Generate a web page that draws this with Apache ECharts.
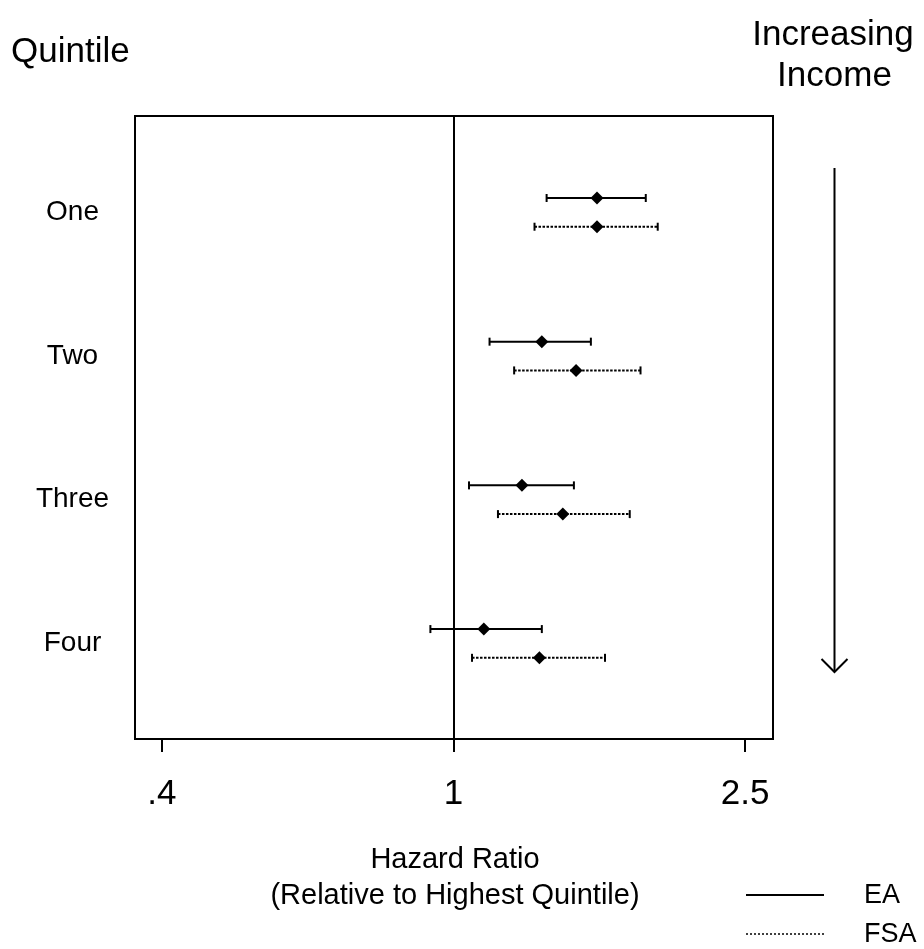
<!DOCTYPE html>
<html><head><meta charset="utf-8">
<script src="https://cdn.jsdelivr.net/npm/echarts@6/dist/echarts.min.js"></script>
<style>html,body{margin:0;padding:0;background:#fff}#c{width:924px;height:949px}</style>
</head><body><div id="c"></div>
<script>
// ---- data ----
const categories = ['One', 'Two', 'Three', 'Four'];
const eaEst  = [1.57, 1.32, 1.24, 1.10];
const eaLow  = [1.34, 1.12, 1.05, 0.93];
const eaHigh = [1.83, 1.54, 1.46, 1.32];
const fsaEst  = [1.57, 1.47, 1.41, 1.31];
const fsaLow  = [1.29, 1.21, 1.15, 1.06];
const fsaHigh = [1.90, 1.80, 1.74, 1.61];
const tickValues = [0.4, 1, 2.5];
const tickLabels = ['.4', '1', '2.5'];
const referenceValue = 1;
const seriesNames = ['EA', 'FSA'];

// ---- chart ----
const FONT = '"Liberation Sans", Arial, Helvetica, sans-serif';
const L = Math.log10;
function rows(est, lo, hi) {
  return categories.map((c, i) => [L(est[i]), L(lo[i]), L(hi[i]), i + 1]);
}
function makeRender(offset, dashed) {
  return function (params, api) {
    const y = api.value(3) + offset;
    const pE = api.coord([api.value(0), y]);
    const pL = api.coord([api.value(1), y]);
    const pH = api.coord([api.value(2), y]);
    const cap = 4, d = 6.5;
    return {
      type: 'group',
      children: [
        { type: 'line', shape: { x1: pL[0], y1: pL[1], x2: pH[0], y2: pH[1] },
          style: { stroke: '#000', lineWidth: 2, lineDash: dashed ? [2.5, 1.5] : null } },
        { type: 'line', shape: { x1: pL[0], y1: pL[1] - cap, x2: pL[0], y2: pL[1] + cap },
          style: { stroke: '#000', lineWidth: 2 } },
        { type: 'line', shape: { x1: pH[0], y1: pH[1] - cap, x2: pH[0], y2: pH[1] + cap },
          style: { stroke: '#000', lineWidth: 2 } },
        { type: 'polygon', shape: { points: [[pE[0], pE[1] - d], [pE[0] + d, pE[1]], [pE[0], pE[1] + d], [pE[0] - d, pE[1]]] },
          style: { fill: '#000' } }
      ]
    };
  };
}
function txt(text, x, y, size, align) {
  return { type: 'text', x: x, y: y, silent: true,
    style: { text: text, fontSize: size, fontFamily: FONT, fill: '#000',
      align: align, verticalAlign: 'middle', textAlign: align, textVerticalAlign: 'middle' } };
}

const chart = echarts.init(document.getElementById('c'), null, { renderer: 'canvas' });
chart.setOption({
  animation: false,
  backgroundColor: '#fff',
  grid: { left: 135, right: 151, top: 116, bottom: 210, show: true, borderColor: '#000', borderWidth: 2, backgroundColor: 'transparent' },
  xAxis: {
    type: 'value', min: -0.4347, max: 0.4361,
    axisLine: { show: true, onZero: false, lineStyle: { color: '#000', width: 2 } },
    axisTick: { show: true, customValues: tickValues.map(L), length: 13, inside: false, lineStyle: { color: '#000', width: 2 } },
    axisLabel: {
      customValues: tickValues.map(L),
      formatter: v => { const i = tickValues.findIndex(t => Math.abs(L(t) - v) < 1e-6); return i >= 0 ? tickLabels[i] : ''; },
      fontSize: 35, fontFamily: FONT, color: '#000', margin: 55, verticalAlign: 'middle'
    },
    splitLine: { show: false }
  },
  yAxis: {
    type: 'value', inverse: true, min: 0.3295, max: 4.665,
    axisLine: { show: false }, axisTick: { show: false }, splitLine: { show: false },
    axisLabel: {
      customValues: categories.map((c, i) => i + 1),
      formatter: v => categories[Math.round(v) - 1] || '',
      fontSize: 28, fontFamily: FONT, color: '#000', align: 'center', margin: 62.5
    }
  },
  series: [
    { type: 'line', data: [], silent: true,
      markLine: { silent: true, symbol: ['none', 'none'], label: { show: false },
        lineStyle: { color: '#000', width: 2, type: 'solid' }, data: [{ xAxis: L(referenceValue) }] } },
    { name: seriesNames[0], type: 'custom', renderItem: makeRender(-0.1, false),
      encode: { x: [0, 1, 2], y: 3 }, data: rows(eaEst, eaLow, eaHigh) },
    { name: seriesNames[1], type: 'custom', renderItem: makeRender(0.1, true),
      encode: { x: [0, 1, 2], y: 3 }, data: rows(fsaEst, fsaLow, fsaHigh) }
  ],
  graphic: [
    txt('Quintile', 11, 52, 35, 'left'),
    txt('Increasing', 833, 35, 35, 'center'),
    txt('Income', 834.5, 76.5, 35, 'center'),
    txt('Hazard Ratio', 455, 859.5, 29, 'center'),
    txt('(Relative to Highest Quintile)', 455, 895.5, 29, 'center'),
    { type: 'line', silent: true, shape: { x1: 834.5, y1: 168, x2: 834.5, y2: 672 }, style: { stroke: '#000', lineWidth: 2 } },
    { type: 'polyline', silent: true, shape: { points: [[821.5, 659], [834.5, 672], [847.5, 659]] }, style: { stroke: '#000', lineWidth: 2, fill: null } },
    { type: 'line', silent: true, shape: { x1: 746, y1: 895, x2: 824, y2: 895 }, style: { stroke: '#000', lineWidth: 2 } },
    { type: 'line', silent: true, shape: { x1: 746, y1: 934, x2: 824, y2: 934 }, style: { stroke: '#000', lineWidth: 1.5, lineDash: [2, 2] } },
    txt(seriesNames[0], 864, 896, 27, 'left'),
    txt(seriesNames[1], 864, 935, 27, 'left')
  ]
});
</script></body></html>
